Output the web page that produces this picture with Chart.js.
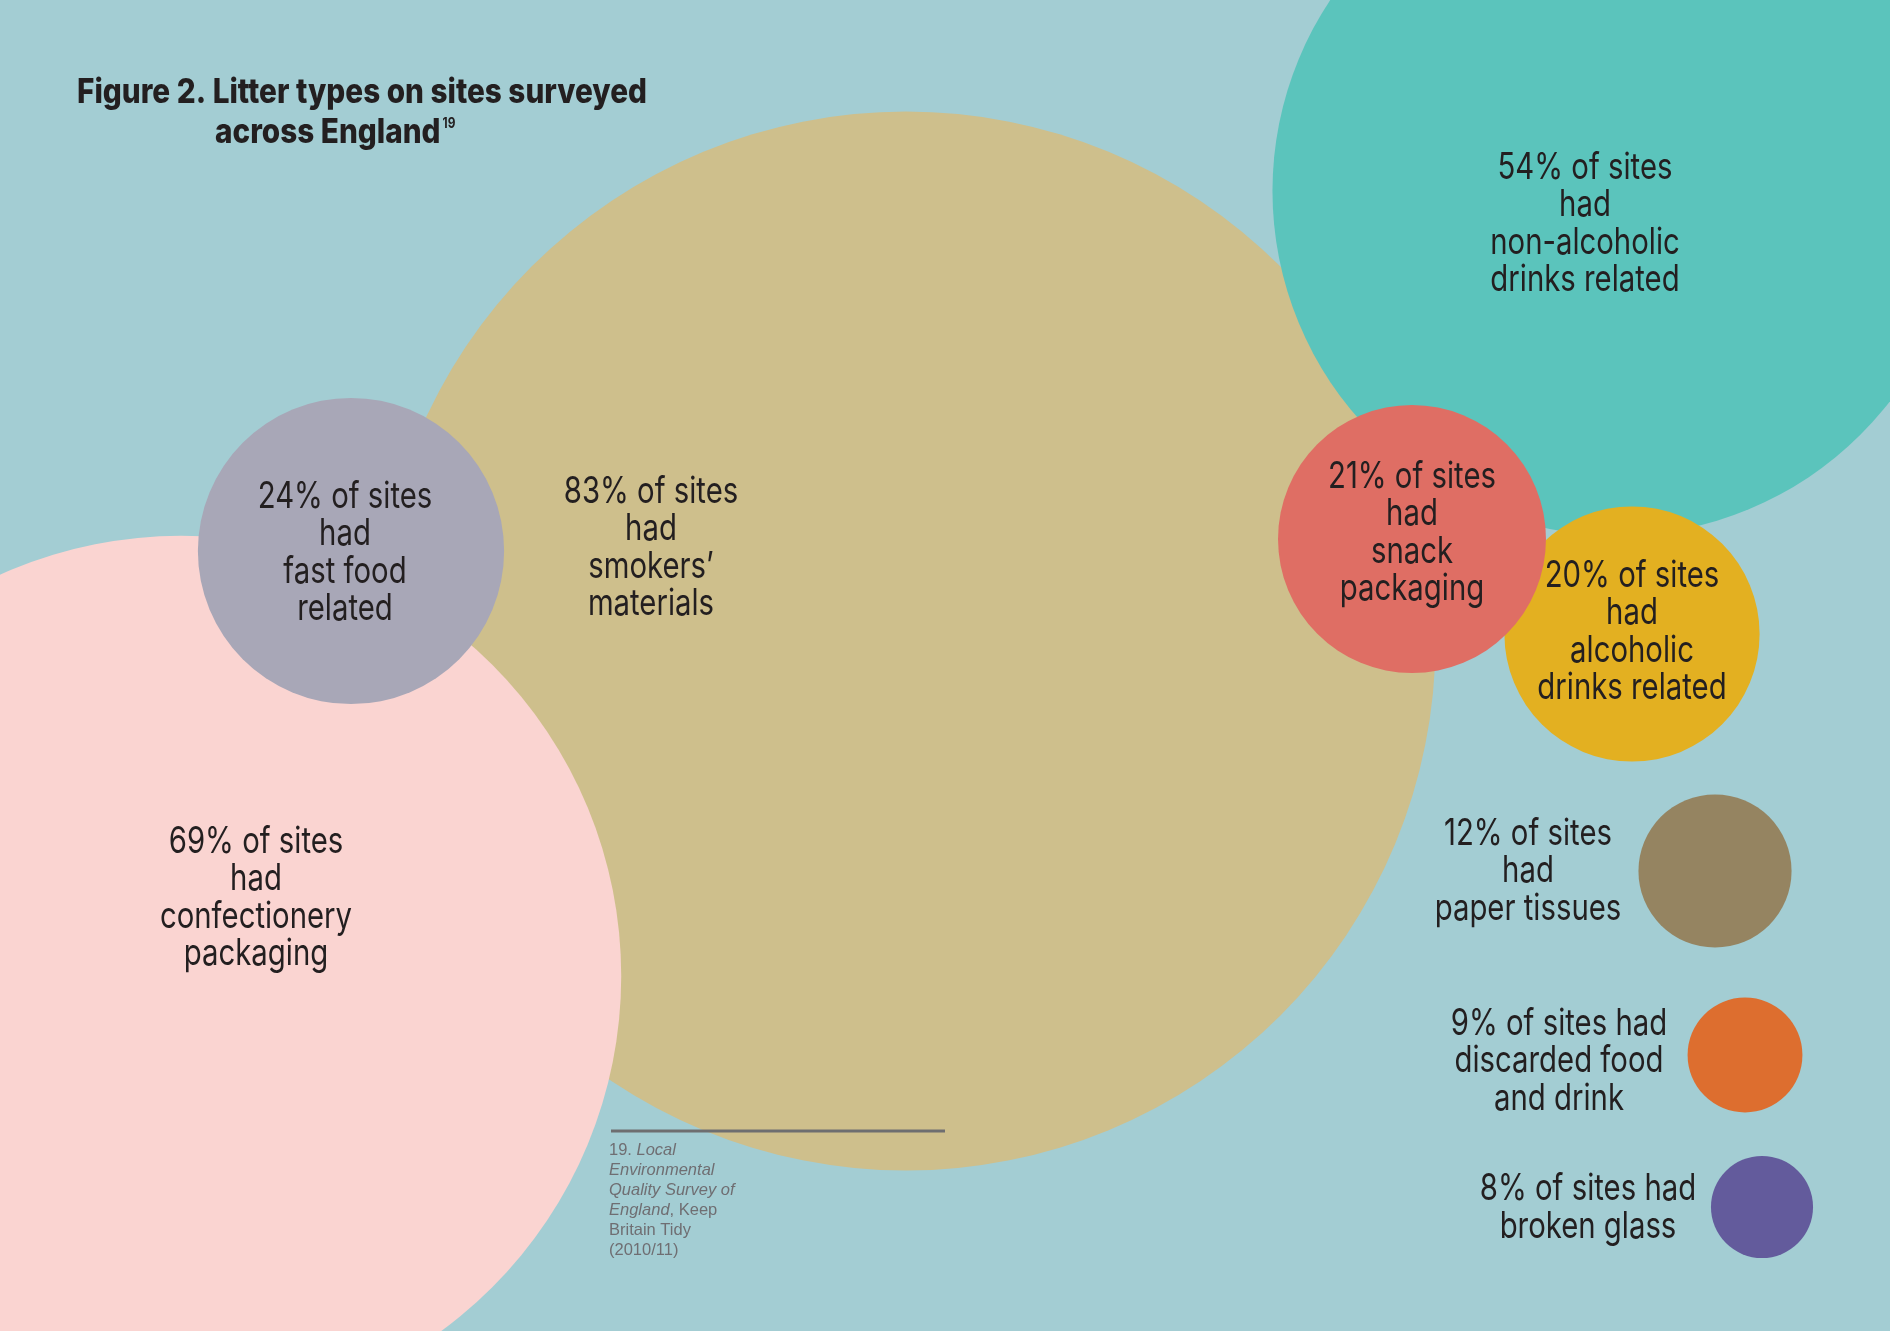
<!DOCTYPE html>
<html>
<head>
<meta charset="utf-8">
<title>Litter types on sites surveyed across England</title>
<script src="https://cdn.jsdelivr.net/npm/chart.js@4.4.1/dist/chart.umd.min.js"></script>
<style>
  html, body { margin: 0; padding: 0; background: #a3cdd3; overflow: hidden; }
  #wrap { width: 1890px; height: 1331px; }
</style>
</head>
<body>
<div id="wrap"><canvas id="chart" width="1890" height="1331"></canvas></div>
<script>
// data (draw order: first one is at the bottom)
const litterTypes = [
  "smokers’ materials", "confectionery packaging", "non-alcoholic drinks related",
  "fast food related", "alcoholic drinks related", "snack packaging",
  "paper tissues", "discarded food and drink", "broken glass"
];
const pctSites = [83, 69, 54, 24, 20, 21, 12, 9, 8];
const labelLines = [
  ["83% of sites", "had", "smokers’", "materials"],
  ["69% of sites", "had", "confectionery", "packaging"],
  ["54% of sites", "had", "non-alcoholic", "drinks related"],
  ["24% of sites", "had", "fast food", "related"],
  ["20% of sites", "had", "alcoholic", "drinks related"],
  ["21% of sites", "had", "snack", "packaging"],
  ["12% of sites", "had", "paper tissues"],
  ["9% of sites had", "discarded food", "and drink"],
  ["8% of sites had", "broken glass"]
];

// layout: bubble centres and label anchors in page units
const bubbleX = [906, 181, 1617, 351, 1632, 1412, 1715, 1745, 1762];
const bubbleY = [641, 976, 191, 551, 634, 539, 871, 1055, 1207];
const labelX = [651, 256, 1585, 345, 1632, 1412, 1528, 1559, 1588];
const labelY = [548, 898, 224, 553, 632, 533, 871, 1061, 1208];

const colours = ["#cebf8c", "#fad4d1", "#5bc4bc", "#a8a7b7", "#e3b021", "#df6e64", "#958461", "#dd6e2f", "#635b9c"];
const R_PER_PCT = 6.38;
const TEXT = "#231f20";

// 🎨 background
const bgPlugin = {
  id: "bg",
  beforeDraw(chart) {
    const c = chart.ctx;
    c.save();
    c.fillStyle = "#a3cdd3";
    c.fillRect(0, 0, chart.width, chart.height);
    c.restore();
  }
};

// 🏷 bubble labels, title, footnote
const textPlugin = {
  id: "texts",
  afterDatasetsDraw(chart) {
    const c = chart.ctx;
    const xs = chart.scales.x, ys = chart.scales.y;
    c.save();
    c.fillStyle = TEXT;
    c.textAlign = "center";
    c.textBaseline = "middle";
    c.font = "400 37px Inter";
    const k = 168 / c.measureText("21% of sites").width;
    const lh = 37.5;
    labelLines.forEach((lines, i) => {
      const cx = xs.getPixelForValue(labelX[i]);
      const cy = ys.getPixelForValue(labelY[i]);
      lines.forEach((t, j) => {
        const w = c.measureText(t).width * k;
        c.fillText(t, cx, cy + (j - (lines.length - 1) / 2) * lh, w);
      });
    });

    // title
    c.textAlign = "left";
    c.textBaseline = "alphabetic";
    c.font = "800 34px Inter";
    const t1 = "Figure 2. Litter types on sites surveyed";
    const t2 = "across England";
    const kt = Math.min(1, 570 / c.measureText(t1).width);
    c.fillText(t1, 77, 103, 570);
    const w2 = c.measureText(t2).width * kt;
    c.fillText(t2, 215, 143, w2);
    c.font = "700 14px Inter";
    c.fillText("19", 215 + w2 + 2, 128, c.measureText("19").width * 0.85);

    // footnote
    c.strokeStyle = "#6e6e70";
    c.lineWidth = 3;
    c.beginPath();
    c.moveTo(611, 1131);
    c.lineTo(945, 1131);
    c.stroke();
    const foot = [
      [["19. ", false], ["Local", true]],
      [["Environmental", true]],
      [["Quality Survey of", true]],
      [["England", true], [", Keep", false]],
      [["Britain Tidy", false]],
      [["(2010/11)", false]]
    ];
    c.fillStyle = "#6f6e72";
    foot.forEach((segs, j) => {
      let x = 609;
      segs.forEach(([s, it]) => {
        c.font = (it ? "italic " : "") + "16.5px 'Liberation Sans'";
        c.fillText(s, x, 1155 + j * 20);
        x += c.measureText(s).width;
      });
    });
    c.restore();
  }
};

const ctx = document.getElementById("chart");
new Chart(ctx, {
  type: "bubble",
  data: {
    labels: litterTypes,
    datasets: [{
      label: "% of sites",
      data: pctSites.map((v, i) => ({ x: bubbleX[i], y: bubbleY[i], r: v * R_PER_PCT })),
      backgroundColor: colours,
      borderWidth: 0,
      hoverRadius: 0,
      clip: false
    }]
  },
  options: {
    responsive: false,
    animation: false,
    events: [],
    layout: { autoPadding: false, padding: 0 },
    scales: {
      x: { display: false, min: 0, max: 1890 },
      y: { display: false, min: 0, max: 1331, reverse: true }
    },
    plugins: {
      legend: { display: false },
      tooltip: { enabled: false }
    }
  },
  plugins: [bgPlugin, textPlugin]
});
</script>
</body>
</html>
